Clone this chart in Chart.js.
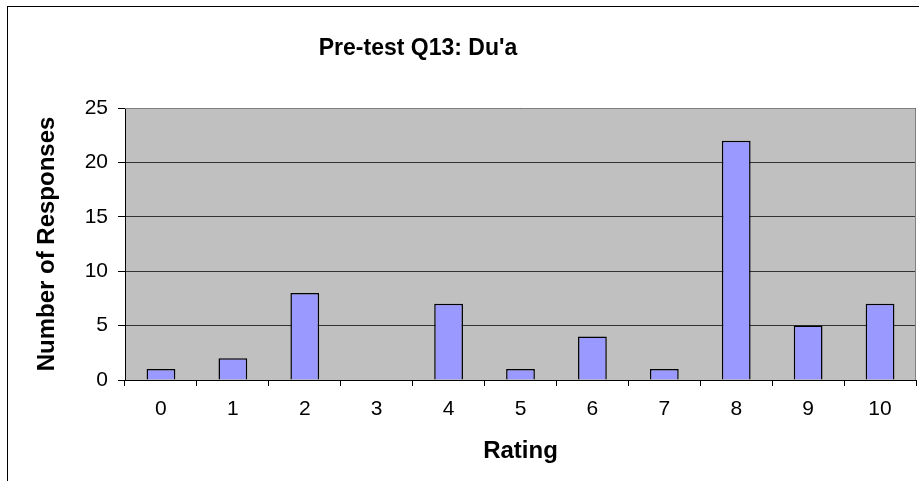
<!DOCTYPE html>
<html>
<head>
<meta charset="utf-8">
<script src="https://cdn.jsdelivr.net/npm/chart.js@4.4.0/dist/chart.umd.min.js"></script>
<style>
  html, body { margin: 0; padding: 0; background: #fff; }
  #wrap { position: relative; width: 919px; height: 481px; }
</style>
</head>
<body>
<div id="wrap"><canvas id="chart" width="919" height="481"></canvas></div>
<script>
// chart data
const ratings = ['0', '1', '2', '3', '4', '5', '6', '7', '8', '9', '10'];
const responses = [1, 2, 8, 0, 7, 1, 4, 1, 22, 5, 7];
const yTicks = [0, 5, 10, 15, 20, 25];

const chartTitle = "Pre-test Q13: Du'a";
const font = "'Liberation Sans', Arial, sans-serif";

// gray plot background, outer frame and title
const decor = {
  id: 'decor',
  beforeDraw(chart) {
    const { ctx, chartArea: a } = chart;
    ctx.save();
    ctx.fillStyle = '#fff';
    ctx.fillRect(0, 0, chart.width, chart.height);
    ctx.fillStyle = '#c0c0c0';
    ctx.fillRect(a.left, a.top, a.right - a.left, a.bottom - a.top);
    ctx.strokeStyle = '#000';
    ctx.lineWidth = 1;
    ctx.strokeRect(7.5, 6.5, chart.width + 10, chart.height + 10);
    ctx.fillStyle = '#000';
    ctx.font = 'bold 23px ' + font;
    ctx.textAlign = 'center';
    ctx.textBaseline = 'middle';
    ctx.fillText(chartTitle, 418, 49);
    ctx.restore();
  },
  afterDatasetsDraw(chart) {
    const { ctx, chartArea: a } = chart;
    ctx.save();
    ctx.strokeStyle = '#808080';
    ctx.lineWidth = 1;
    ctx.beginPath();
    ctx.moveTo(a.left, a.top + 0.5);
    ctx.lineTo(a.right - 0.5, a.top + 0.5);
    ctx.lineTo(a.right - 0.5, a.bottom);
    ctx.stroke();
    ctx.restore();
  }
};

new Chart(document.getElementById('chart').getContext('2d'), {
  type: 'bar',
  data: {
    labels: ratings,
    datasets: [{
      data: responses,
      backgroundColor: '#9999ff',
      borderColor: '#000',
      borderWidth: 1.5,
      barPercentage: 0.4,
      categoryPercentage: 1
    }]
  },
  options: {
    responsive: false,
    animation: false,
    layout: { padding: { left: 33, top: 108, right: 3, bottom: 15 } },
    plugins: {
      legend: { display: false },
      tooltip: { enabled: false }
    },
    scales: {
      x: {
        offset: true,
        afterFit(scale) { scale.height = 86; },
        grid: {
          offset: true,
          drawOnChartArea: false,
          color: '#000',
          tickLength: 6,
          tickColor: '#000'
        },
        border: { color: '#000', width: 1 },
        ticks: { color: '#000', font: { family: font, size: 21 }, padding: 11 },
        title: {
          display: true,
          text: 'Rating',
          color: '#000',
          font: { family: font, size: 24, weight: 'bold' },
          padding: { top: 0, bottom: 0 }
        }
      },
      y: {
        min: 0,
        max: 25,
        afterBuildTicks(scale) {
          scale.ticks = yTicks.map(v => ({ value: v }));
        },
        afterFit(scale) { scale.width = 92; },
        grid: {
          color: '#333',
          tickLength: 7,
          tickColor: '#000',
          lineWidth: 1
        },
        border: { color: '#000', width: 1 },
        ticks: { color: '#000', font: { family: font, size: 21 }, padding: 10 },
        title: {
          display: true,
          text: 'Number of Responses',
          color: '#000',
          font: { family: font, size: 24, weight: 'bold' },
          padding: { top: 0, bottom: 0 }
        }
      }
    }
  },
  plugins: [decor]
});
</script>
</body>
</html>
